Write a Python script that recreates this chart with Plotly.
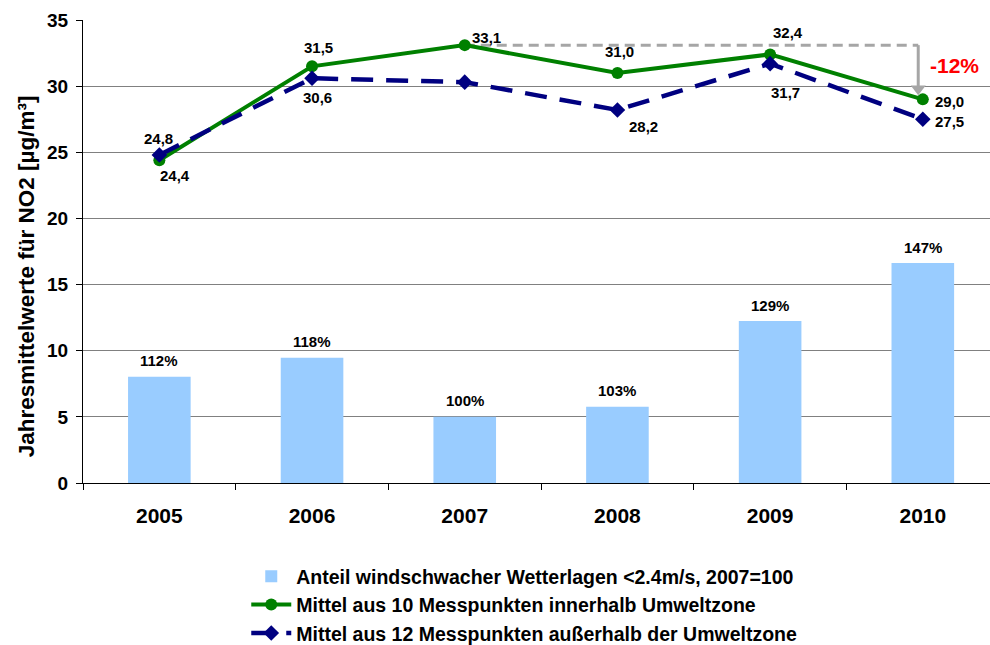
import plotly.graph_objects as go

years = ["2005", "2006", "2007", "2008", "2009", "2010"]
wind_share = [8.03, 9.47, 5.01, 5.77, 12.24, 16.63]
wind_labels = ["112%", "118%", "100%", "103%", "129%", "147%"]
inside_zone = [24.4, 31.5, 33.1, 31.0, 32.4, 29.0]
outside_zone = [24.8, 30.6, 30.3, 28.2, 31.7, 27.5]
outside_labels = ["24,8", "30,6", "", "28,2", "31,7", "27,5"]
inside_labels = ["24,4", "31,5", "33,1", "31,0", "32,4", "29,0"]
change_label = "-12%"
y_title = "Jahresmittelwerte für NO2 [µg/m³]"

FONT = "Liberation Sans, Arial, sans-serif"
GREY = "#A6A6A6"

fig = go.Figure()
fig.add_trace(go.Bar(
    x=years, y=wind_share, name="Anteil windschwacher Wetterlagen <2.4m/s, 2007=100",
    marker=dict(color="#99CCFF", line=dict(width=0)), width=0.41,
))
fig.add_trace(go.Scatter(
    x=years, y=inside_zone, name="Mittel aus 10 Messpunkten innerhalb Umweltzone",
    mode="lines+markers", line=dict(color="#008000", width=4),
    marker=dict(symbol="circle", size=12, color="#008000"),
))
fig.add_trace(go.Scatter(
    x=years, y=outside_zone, name="Mittel aus 12 Messpunkten außerhalb der Umweltzone",
    mode="lines+markers", line=dict(color="#000080", width=4.5, dash="22px,13px"),
    marker=dict(symbol="diamond", size=12, color="#000080"),
))

# change arrow (vertical grey line + arrowhead)
x_arrow = len(years) - 1 - 0.03
fig.add_trace(go.Scatter(
    x=[x_arrow], y=[inside_zone[-1] + 0.8], mode="markers", showlegend=False,
    hoverinfo="skip", marker=dict(symbol="triangle-down", size=13, color=GREY),
    xaxis="x2", yaxis="y",
))

ann = []
lab_font = dict(family=FONT, size=15, color="#000000", weight="bold")
for i, (v, t) in enumerate(zip(wind_share, wind_labels)):
    ann.append(dict(x=i, y=v, text=t, showarrow=False, yshift=16, font=lab_font))
g_off = [(16, -15), (6, 19), (22, 8), (2, 21), (18, 22), (27, -2)]
for i, (v, t) in enumerate(zip(inside_zone, inside_labels)):
    dx, dy = g_off[i]
    ann.append(dict(x=i, y=v, text=t, showarrow=False, xshift=dx, yshift=dy, font=lab_font))
b_off = [(-1, 16), (5, -19), (0, 0), (26, -17), (15, -29), (27, -2)]
for i, (v, t) in enumerate(zip(outside_zone, outside_labels)):
    if not t:
        continue
    dx, dy = b_off[i]
    ann.append(dict(x=i, y=v, text=t, showarrow=False, xshift=dx, yshift=dy, font=lab_font))

ann.append(dict(x=len(years) - 1, y=inside_zone[2], text=change_label, showarrow=False,
                xshift=32, yshift=-20,
                font=dict(family=FONT, size=21, color="#FF0000", weight="bold")))
ann.append(dict(x=-0.0625, y=0.447, xref="paper", yref="paper", text=y_title,
                textangle=-90, showarrow=False, xanchor="center", yanchor="middle",
                font=dict(family=FONT, size=22.5, weight="bold")))

shapes = [
    dict(type="line", xref="x2", yref="y", x0=2, x1=x_arrow, y0=inside_zone[2],
         y1=inside_zone[2], line=dict(color=GREY, width=3, dash="10px,6px"), layer="below"),
    dict(type="line", xref="x2", yref="y", x0=x_arrow, x1=x_arrow, y0=inside_zone[2],
         y1=inside_zone[-1] + 1.0, line=dict(color=GREY, width=3), layer="below"),
]

fig.update_layout(
    width=990, height=645,
    margin=dict(l=83, r=0, t=20, b=162, autoexpand=False),
    paper_bgcolor="white", plot_bgcolor="white",
    font=dict(family=FONT, color="#000000"),
    showlegend=True,
    legend=dict(x=0.18, y=-0.16, xanchor="left", yanchor="top", orientation="v",
                font=dict(family=FONT, size=19.5, weight="bold"), tracegroupgap=0,
                itemwidth=40, bgcolor="rgba(0,0,0,0)"),
    annotations=ann, shapes=shapes,
    xaxis2=dict(range=[-0.5, 5.44], overlaying="x", visible=False),
)
fig.update_layout(xaxis=dict(
    type="category", range=[-0.5, 5.44], showline=True, linecolor="#000000",
    linewidth=1, ticks="outside", tickson="boundaries", ticklen=6,
    tickcolor="#000000", showgrid=False, ticklabelstandoff=14, automargin=False,
    tickfont=dict(family=FONT, size=21, weight="bold")))
fig.update_yaxes(range=[0, 35], dtick=5, showline=True, linecolor="#000000", linewidth=1,
                 ticks="outside", ticklen=6, tickcolor="#000000", automargin=False,
                 showgrid=True, gridcolor="#808080", gridwidth=1, zeroline=False,
                 ticklabelstandoff=4,
                 tickfont=dict(family=FONT, size=19, weight="bold"))

fig.write_html("out.html", config={"displayModeBar": False},
               post_script="document.body.style.margin='0px';document.body.style.overflow='hidden';")
